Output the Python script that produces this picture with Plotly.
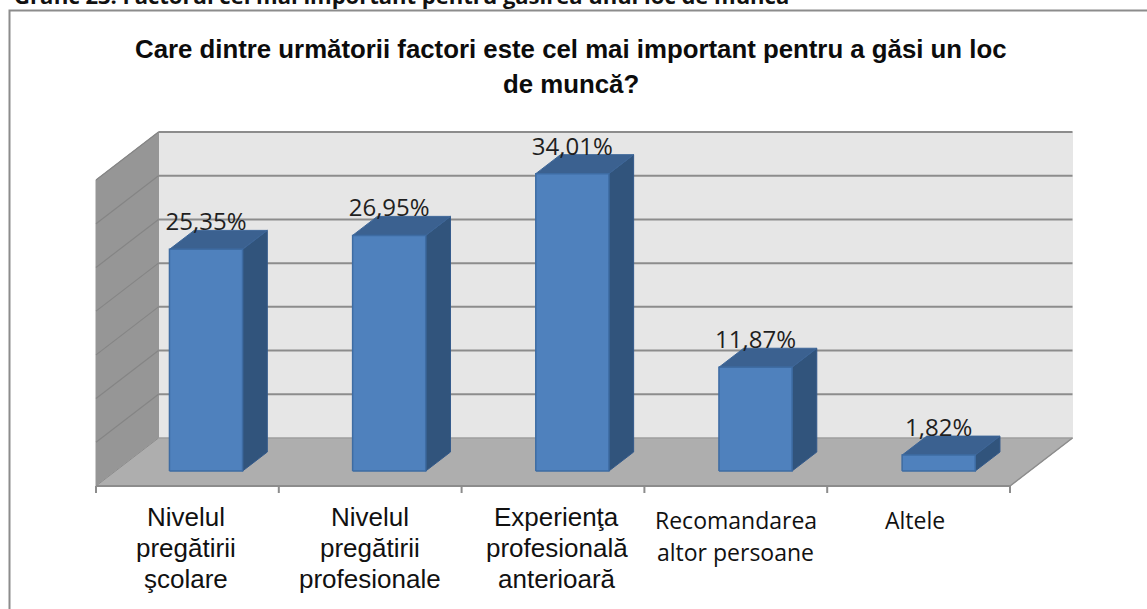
import plotly.graph_objects as go

# ---- data ----
categories = [
    ["Nivelul", "pregătirii", "şcolare"],
    ["Nivelul", "pregătirii", "profesionale"],
    ["Experienţa", "profesională", "anterioară"],
    ["Recomandarea", "altor persoane"],
    ["Altele"],
]
values = [25.35, 26.95, 34.01, 11.87, 1.82]
value_labels = ["25,35%", "26,95%", "34,01%", "11,87%", "1,82%"]
axis_ticks = [0, 5, 10, 15, 20, 25, 30, 35]
title_lines = ["Care dintre următorii factori este cel mai important pentru a găsi un loc",
               "de muncă?"]
heading = "Grafic 23. Factorul cel mai important pentru găsirea unui loc de muncă"

# ---- oblique projection of the 3D chart box onto the 2D axes ----
W, H = 1147, 609
PX_X = 182.8      # pixels per category
PX_Y = 8.743      # pixels per percentage point
X0_PX, Y0_PX = 96, 438          # left end of front floor edge / back floor line
DX = 62.5 / PX_X  # depth shift in x units
DY = 48 / PX_Y    # depth shift in y units
x_range = [-0.5 - X0_PX / PX_X, -0.5 + (W - X0_PX) / PX_X]
y_range = [-(H - Y0_PX) / PX_Y, Y0_PX / PX_Y]
XL, XR = -0.5, len(values) - 0.5
VMAX = axis_ticks[-1]


def pr(x, v, d):
    """d=0 front of the box, d=1 back of the box."""
    return x + d * DX, v + (d - 1) * DY


def poly(points, fill, line=None, lw=1):
    xs, ys = zip(*[pr(*p) for p in points])
    return go.Scatter(x=list(xs) + [xs[0]], y=list(ys) + [ys[0]], mode="lines", fill="toself",
                      fillcolor=fill, line=dict(color=line or fill, width=lw),
                      hoverinfo="skip", showlegend=False)


def seg(points, color, lw):
    xs, ys = zip(*[pr(*p) for p in points])
    return go.Scatter(x=list(xs), y=list(ys), mode="lines", line=dict(color=color, width=lw),
                      hoverinfo="skip", showlegend=False)


traces = []
# walls
traces.append(poly([(XL, 0, 1), (XR, 0, 1), (XR, VMAX, 1), (XL, VMAX, 1)], "#E6E6E6"))
traces.append(poly([(XL, 0, 0), (XL, 0, 1), (XL, VMAX, 1), (XL, VMAX, 0)], "#969696"))
# gridlines
for t in axis_ticks[1:]:
    traces.append(seg([(XL, t, 1), (XR, t, 1)], "#8C8C8C", 2))
    traces.append(seg([(XL, t, 0), (XL, t, 1)], "#858585", 1.2))
# floor
traces.append(poly([(XL, 0, 0), (XL, 0, 1), (XR, 0, 1), (XR, 0, 0)], "#AEAEAE"))
traces.append(seg([(XR, 0, 0), (XR, 0, 1)], "#8C8C8C", 1.5))
traces.append(seg([(XL, 0, 1), (XR, 0, 1)], "#969696", 1))
traces.append(seg([(XL, 0, 0), (XL, 0, 1)], "#8C8C8C", 1))
# category axis with ticks
traces.append(seg([(XL, 0, 0), (XR, 0, 0)], "#8C8C8C", 2))
for i in range(len(values) + 1):
    x = XL + i
    tx, ty = pr(x, 0, 0)
    traces.append(go.Scatter(x=[tx, tx], y=[ty, ty - 7 / PX_Y], mode="lines",
                             line=dict(color="#8C8C8C", width=2), hoverinfo="skip", showlegend=False))

# bars
HALF = 0.2
D0, D1 = 0.3125, 0.708
SHIFT = -0.005
SPACING = 1.002
for i, v in enumerate(values):
    c = i * SPACING + SHIFT
    l, r = c - HALF, c + HALF
    traces.append(poly([(r, 0, D0), (r, 0, D1), (r, v, D1), (r, v, D0)], "#31547C", "#33598A"))
    traces.append(poly([(l, v, D0), (l, v, D1), (r, v, D1), (r, v, D0)], "#3B6190", "#3D6698"))
    traces.append(poly([(l, 0, D0), (r, 0, D0), (r, v, D0), (l, v, D0)], "#4F81BD", "#3E6CA3", 1.5))

# value labels
lx, ly = [], []
for i, v in enumerate(values):
    fx, fy = pr(i * SPACING + SHIFT, v, D0)
    lx.append(fx)
    ly.append(fy + 25 / PX_Y)
traces.append(go.Scatter(x=lx, y=ly, mode="text", text=value_labels,
                         textfont=dict(family="Open Sans", size=24, color="#1f1f1f"),
                         textposition="middle center", hoverinfo="skip", showlegend=False))

fig = go.Figure(traces)

# category labels, line by line, hung below the front axis
label_fonts = ["Liberation Sans"] * 3 + ["Open Sans"] * 2
label_sizes = [26, 26, 26, 23, 23]
label_shift = [-0.008, 0.0, 0.02, 0.0, -0.02]
line_px = [31, 31, 31, 32, 32]
first_px = [31, 31, 31, 34, 34]
for i, lines in enumerate(categories):
    cx, cy = pr(i, 0, 0)
    for j, txt in enumerate(lines):
        fig.add_annotation(x=cx + label_shift[i], y=cy, xref="x", yref="y", text=txt,
                           showarrow=False, xanchor="center", yanchor="middle",
                           yshift=-(first_px[i] + j * line_px[i]),
                           font=dict(family=label_fonts[i], size=label_sizes[i], color="#111111"))

# chart title
for j, txt in enumerate(title_lines):
    fig.add_annotation(x=571 / W, y=1 - (49.5 + j * 34) / H, xref="paper", yref="paper",
                       text="<b>" + txt + "</b>", showarrow=False,
                       xanchor="center", yanchor="middle",
                       font=dict(family="Liberation Sans", size=25.8, color="#0c0c0c"))

# clipped document heading above the chart frame
fig.add_annotation(x=12 / W, y=1 + 5 / H, xref="paper", yref="paper", text="<b>" + heading + "</b>",
                   showarrow=False, xanchor="left", yanchor="middle",
                   font=dict(family="Open Sans", size=22, color="#111111"))

# chart frame
fig.add_shape(type="rect", xref="paper", yref="paper", x0=9.5 / W, x1=1.02, y0=-0.02, y1=1 - 10.5 / H,
              line=dict(color="#8C8C8C", width=2), fillcolor="rgba(0,0,0,0)", layer="below")

fig.update_layout(
    width=W, height=H, autosize=False,
    margin=dict(l=0, r=0, t=0, b=0),
    paper_bgcolor="white", plot_bgcolor="white", showlegend=False,
    xaxis=dict(range=x_range, visible=False, fixedrange=True),
    yaxis=dict(range=y_range, visible=False, fixedrange=True),
)
fig.write_html("out.html", config={"displayModeBar": False},
               post_script="document.body.style.margin='0';document.body.style.overflow='hidden';")
